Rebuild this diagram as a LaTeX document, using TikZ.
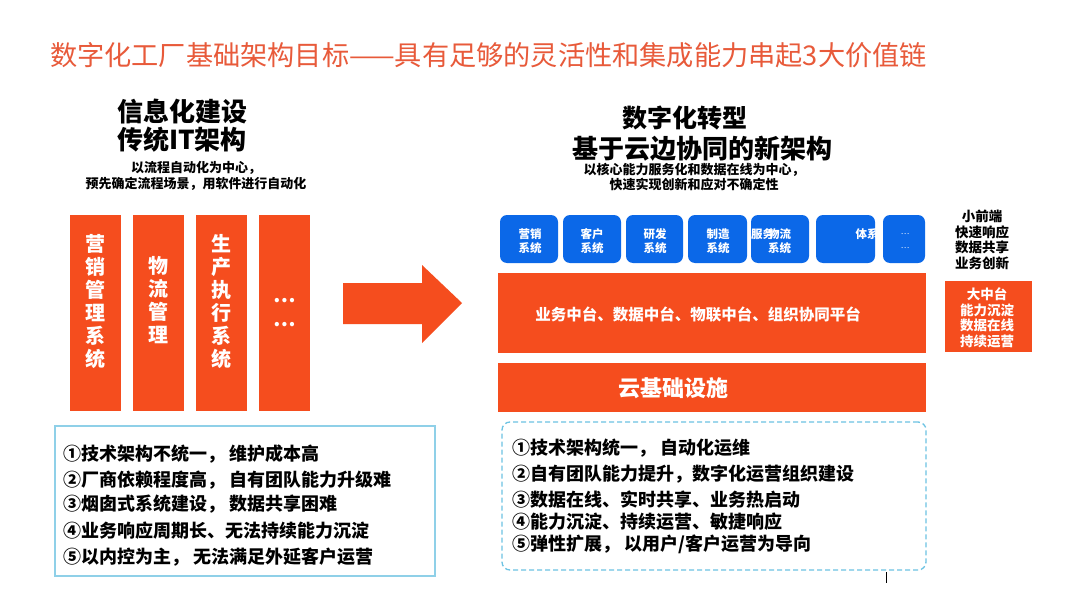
\documentclass[tikz,border=0pt]{standalone}
\usepackage{fontspec}
\setmainfont{Noto Sans CJK SC}
\definecolor{myorange}{HTML}{F54D1E}
\definecolor{mytitle}{HTML}{E85A3A}
\definecolor{myblue}{HTML}{0B68E8}
\definecolor{mycyan}{HTML}{8FD0E8}
\definecolor{mydash}{HTML}{6CC3E3}
\tikzset{
  orangebar/.style={fill=myorange, draw=none, minimum width=51pt, minimum height=196pt, inner sep=0pt},
  bartext/.style={text=white, font=\fontsize{20}{23}\selectfont\bfseries, align=center, inner sep=0pt},
  bluebox/.style={fill=myblue, draw=none, rounded corners=7pt, minimum height=48pt, inner sep=0pt},
  bluetext/.style={text=white, font=\fontsize{11.5}{14}\selectfont\bfseries, align=center, inner sep=0pt},
  headtext/.style={font=\fontsize{26}{28}\selectfont\bfseries, align=center, inner sep=0pt},
  subtext/.style={font=\fontsize{13}{15.5}\selectfont\bfseries, align=center, inner sep=0pt},
  listtext/.style={font=\fontsize{18}{20}\selectfont\bfseries, anchor=west, inner sep=0pt},
  sidetext/.style={font=\fontsize{13.5}{15.5}\selectfont\bfseries, align=center, inner sep=0pt}
}
\begin{document}
\begin{tikzpicture}[x=1pt,y=-1pt]
\useasboundingbox (0,0) rectangle (1080,608);
\fill[white] (0,0) rectangle (1080,608);
% title
\node[text=mytitle, font=\fontsize{27.2}{30}\selectfont, inner sep=0pt, anchor=west] (title) at (50,55) {数字化工厂基础架构目标——具有足够的灵活性和集成能力串起3大价值链};
% left header
\node[headtext] (lh) at (182,126) {信息化建设\\传统IT架构};
\node[subtext] (ls) at (196,176) {以流程自动化为中心，\\预先确定流程场景，用软件进行自动化};
% left bars
\node[orangebar] (b1) at (95.5,313) {};
\node[orangebar] (b2) at (158,313) {};
\node[orangebar] (b3) at (221,313) {};
\node[orangebar] (b4) at (284.5,313) {};
\node[bartext] (t1) at (95.5,302) {营\\销\\管\\理\\系\\统};
\node[bartext] (t2) at (158,300) {物\\流\\管\\理};
\node[bartext] (t3) at (221,302) {生\\产\\执\\行\\系\\统};
\node[bartext] (t4) at (284.5,313) {…\\[1pt]…};
% left list box
\node[draw=mycyan, line width=1.3pt, minimum width=380pt, minimum height=150pt, inner sep=0pt] (lbox) at (245,501) {};
\node[listtext] (l1) at (63,454) {①技术架构不统一， 维护成本高};
\node[listtext] (l2) at (63,480) {②厂商依赖程度高， 自有团队能力升级难};
\node[listtext] (l3) at (63,504) {③烟囱式系统建设， 数据共享困难};
\node[listtext] (l4) at (63,531) {④业务响应周期长、无法持续能力沉淀};
\node[listtext] (l5) at (63,557) {⑤以内控为主， 无法满足外延客户运营};
% big arrow
\fill[myorange] (343,283) -- (422,283) -- (422,265) -- (462,303) -- (422,343) -- (422,324) -- (343,324) -- cycle;
% right header
\node[headtext, font=\fontsize{25}{28}\selectfont\bfseries] (rh1) at (685,118) {数字化转型};
\node[headtext] (rh2) at (702,149) {基于云边协同的新架构};
\node[subtext] (rs) at (694,177) {以核心能力服务化和数据在线为中心，\\快速实现创新和应对不确定性};
% blue boxes
\node[bluebox, minimum width=58pt] (s1) at (529,239) {};
\node[bluebox, minimum width=58pt] (s2) at (592,239) {};
\node[bluebox, minimum width=57pt] (s3) at (654.5,239) {};
\node[bluebox, minimum width=59pt] (s4) at (717.5,239) {};
\node[bluebox, minimum width=58pt] (s5) at (780,239) {};
\node[bluebox, minimum width=59pt] (s6) at (845.5,239) {};
\node[bluebox, minimum width=42pt] (s7) at (904,239) {};
\node[bluetext] (st1) at (530,241) {营销\\系统};
\node[bluetext] (st2) at (592,241) {客户\\系统};
\node[bluetext] (st3) at (655,241) {研发\\系统};
\node[bluetext] (st4) at (718,241) {制造\\系统};
\node[bluetext, align=right] (st5) at (771,241) {服务\kern-6pt 物流\\系统};
\begin{scope}
\clip (816,215) rectangle (875,263);
\node[bluetext] (st6) at (867,234) {体系};
\end{scope}
\node[bluetext, font=\fontsize{8}{14}\selectfont] (st7) at (905,241) {…\\…};
% platform
\node[fill=myorange, minimum width=428pt, minimum height=80pt, inner sep=0pt] (plat) at (712,313) {};
\node[text=white, font=\fontsize{15.5}{18}\selectfont\bfseries, inner sep=0pt] (platt) at (698,315) {业务中台、数据中台、物联中台、组织协同平台};
\node[fill=myorange, minimum width=428pt, minimum height=49pt, inner sep=0pt] (cloud) at (712,387.5) {};
\node[text=white, font=\fontsize{22}{24}\selectfont\bfseries, inner sep=0pt] (cloudt) at (673,388) {云基础设施};
% right list box
\node[draw=mydash, line width=1.3pt, dash pattern=on 5pt off 3pt, rounded corners=8pt, minimum width=424pt, minimum height=148pt, inner sep=0pt] (rbox) at (714,496) {};
\node[listtext] (r1) at (512,448) {①技术架构统一， 自动化运维};
\node[listtext] (r2) at (512,474) {②自有团队能力提升，数字化运营组织建设};
\node[listtext] (r3) at (512,500) {③数据在线、实时共享、业务热启动};
\node[listtext] (r4) at (512,522) {④能力沉淀、持续运营、敏捷响应};
\node[listtext] (r5) at (512,544) {⑤弹性扩展， 以用户/客户运营为导向};
\coordinate (tickA) at (886,572);
\coordinate (tickB) at (886,583);
\draw[black, line width=0.8pt] (tickA) -- (tickB);
% side notes
\node[sidetext] (front) at (982,240) {小前端\\快速响应\\数据共享\\业务创新};
\node[fill=myorange, minimum width=87pt, minimum height=71pt, inner sep=0pt] (mid) at (988.5,316.5) {};
\node[sidetext, text=white] (midt) at (987,318) {大中台\\能力沉淀\\数据在线\\持续运营};
\end{tikzpicture}
\end{document}
